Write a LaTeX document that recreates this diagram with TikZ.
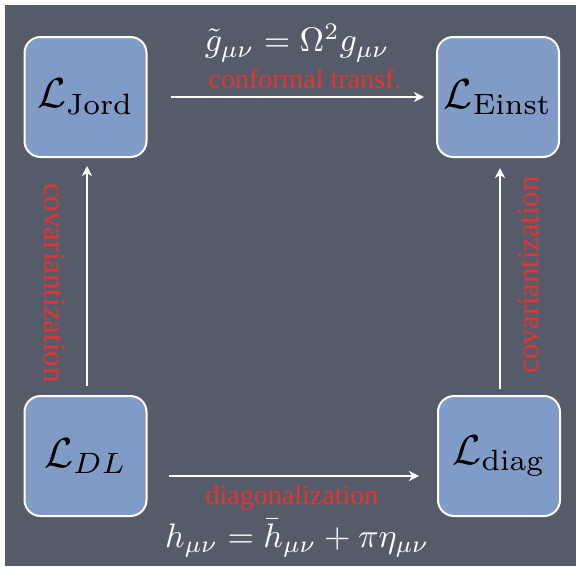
\documentclass[tikz,border=0pt]{standalone}
\usepackage{fontspec}
\usepackage{graphicx}
\newfontfamily\tnr{Liberation Serif}
\usetikzlibrary{arrows.meta}
\definecolor{board}{RGB}{86,91,106}
\definecolor{boxblue}{RGB}{128,155,198}
\definecolor{chalkred}{RGB}{232,52,48}
\newcommand{\boxmath}[1]{\scalebox{4.2}{$#1$}}
\newcommand{\labmath}[1]{\scalebox{3.4}{$#1$}}
\begin{document}
\begin{tikzpicture}[x=1pt,y=-1pt,
  lbox/.style={draw=white, line width=2pt, fill=boxblue, rounded corners=16pt,
    minimum width=122pt, minimum height=120pt, inner sep=0pt},
  conn/.style={draw=white, line width=1.8pt, -{Stealth[length=10pt,width=10pt,inset=3pt]}},
  redlbl/.style={text=chalkred, font=\tnr\fontsize{28}{32}\selectfont, inner sep=0pt},
  mathlbl/.style={text=white, inner sep=0pt}]
\fill[white] (0,0) rectangle (576,566);
\fill[board] (5,5) rectangle (576,566);
\useasboundingbox (0,0) rectangle (576,566);

\node[lbox] (jord) at (85.5,97) {\boxmath{\mathcal{L}_{\mathrm{Jord}}}};
\node[lbox] (einst) at (498,97) {\boxmath{\mathcal{L}_{\mathrm{Einst}}}};
\node[lbox] (dl) at (85.5,456) {\boxmath{\mathcal{L}_{DL}}};
\node[lbox] (diag) at (499,456) {\boxmath{\mathcal{L}_{\mathrm{diag}}}};

\draw[conn] ([xshift=23pt]jord.east) -- ([xshift=-12pt]einst.west);
\draw[conn] ([xshift=21pt,yshift=-20pt]dl.east) -- ([xshift=-18pt,yshift=-20pt]diag.west);
\draw[conn] ([xshift=1.5pt,yshift=9pt]dl.north) -- ([xshift=1.5pt,yshift=-8pt]jord.south);
\draw[conn] ([xshift=1pt,yshift=6pt]diag.north) -- ([xshift=2pt,yshift=-10pt]einst.south);

\node[mathlbl] (gtop) at (297,43) {\labmath{\tilde g_{\mu\nu} = \Omega^2 g_{\mu\nu}}};
\node[redlbl] (conf) at (305,79) {conformal transf.};
\node[redlbl] (diaglbl) at (292,498) {diagonalization};
\node[mathlbl] (hbot) at (297,538) {\labmath{h_{\mu\nu} = \bar h_{\mu\nu} + \pi\eta_{\mu\nu}}};
\node[redlbl, rotate=-90, font=\tnr\fontsize{31}{34}\selectfont] (covl) at (55,283) {covariantization};
\node[redlbl, rotate=90, font=\tnr\fontsize{30.5}{34}\selectfont] (covr) at (529,275) {covariantization};
\end{tikzpicture}
\end{document}
